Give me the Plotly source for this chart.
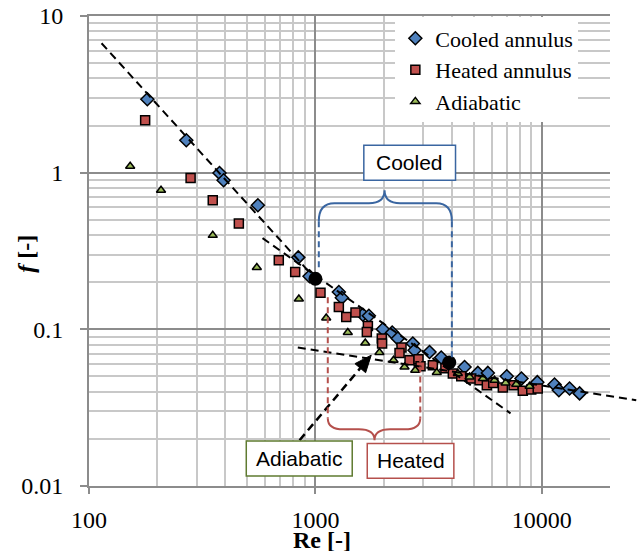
import math
import plotly.graph_objects as go

# ---------------- data ----------------
re_cooled = [181, 269, 377, 393, 557, 840, 942, 1269, 1308, 1620, 1722, 1985, 2183, 2312,
             2693, 2740, 3191, 3594, 4557, 5216, 5774, 7000, 8130, 9550, 11377, 11890,
             13253, 14680]
f_cooled = [2.94, 1.61, 0.996, 0.894, 0.619, 0.288, 0.218, 0.173, 0.159, 0.124, 0.122, 0.100,
            0.0954, 0.0873, 0.0812, 0.0735, 0.0717, 0.0661, 0.0575, 0.0527, 0.0527, 0.0502,
            0.0485, 0.0460, 0.0444, 0.0409, 0.0419, 0.0390]

re_heated = [177, 281, 352, 459, 689, 814, 1053, 1269, 1368, 1503, 1705, 1687, 1964, 1970,
             2400, 2352, 2604, 2853, 2912, 3301, 3750, 4045, 4406, 4879, 5307, 5714, 6100,
             6725, 7500, 8240, 8980, 9590]
f_heated = [2.16, 0.925, 0.667, 0.473, 0.276, 0.232, 0.171, 0.139, 0.120, 0.128, 0.105, 0.0962,
            0.0873, 0.0811, 0.0765, 0.0707, 0.0635, 0.0644, 0.0581, 0.0590, 0.0564, 0.0522,
            0.0502, 0.0485, 0.0473, 0.0440, 0.0455, 0.0425, 0.0440, 0.0406, 0.0413, 0.0419]

re_adiabatic = [152, 208, 352, 551, 845, 1116, 1390, 1660, 1918, 2213, 2475, 2759, 3436, 4256,
                4795, 5488, 6181, 6916, 7708, 8825]
f_adiabatic = [1.10, 0.772, 0.398, 0.248, 0.156, 0.118, 0.0954, 0.0819, 0.0711, 0.0635, 0.0575,
               0.0548, 0.0530, 0.0522, 0.0497, 0.0485, 0.0473, 0.0455, 0.0446, 0.0433]

# transition points (black dots)
re_transition = [1000, 3900]
f_transition = [0.21, 0.0615]

x_tickvals = [100, 1000, 10000]
x_ticktext = ["100", "1000", "10000"]
y_tickvals = [0.01, 0.1, 1, 10]
y_ticktext = ["0.01", "0.1", "1", "10"]

# guide lines (Re, f) endpoints
guide_laminar = [(113.6, 6.70), (1000, 0.21)]
guide_slope = [(584, 0.382), (7273, 0.0291)]
guide_turb = [(836, 0.0765), (26120, 0.0353)]
arrow_adiabatic = [(851, 0.0196), (1764, 0.0684)]

# ---------------- helpers ----------------
X_RANGE = [2.0, math.log10(20000)]
Y_RANGE = [-2.0, 1.0]
W, H = 521.0, 470.0  # plot-area size in px


def to_paper(re, f):
    return ((math.log10(re) - X_RANGE[0]) / (X_RANGE[1] - X_RANGE[0]),
            (math.log10(f) - Y_RANGE[0]) / (Y_RANGE[1] - Y_RANGE[0]))


shapes = []


def add_line(p0, p1, color="black", width=2, dash="8px,5px"):
    x0, y0 = to_paper(*p0)
    x1, y1 = to_paper(*p1)
    shapes.append(dict(type="line", xref="paper", yref="paper", x0=x0, y0=y0, x1=x1, y1=y1,
                       layer="above", line=dict(color=color, width=width, dash=dash)))


def add_brace(re_l, re_r, re_tip, f_end, f_mid, f_tip, color, r=0.03):
    xl, ye = to_paper(re_l, f_end)
    xr, _ = to_paper(re_r, f_end)
    xt, yt = to_paper(re_tip, f_tip)
    _, ym = to_paper(re_l, f_mid)
    path = (f"M{xl},{ye} Q{xl},{ym} {xl + r},{ym} L{xt - r},{ym} Q{xt},{ym} {xt},{yt} "
            f"Q{xt},{ym} {xt + r},{ym} L{xr - r},{ym} Q{xr},{ym} {xr},{ye}")
    shapes.append(dict(type="path", xref="paper", yref="paper", path=path, layer="above",
                       line=dict(color=color, width=2)))


def add_box(re0, re1, f0, f1, color):
    x0, y0 = to_paper(re0, f0)
    x1, y1 = to_paper(re1, f1)
    shapes.append(dict(type="rect", xref="paper", yref="paper", x0=x0, y0=y0, x1=x1, y1=y1,
                       layer="above", fillcolor="white", line=dict(color=color, width=1.5)))
    return (x0 + x1) / 2, (y0 + y1) / 2


def add_arrow(p_tail, p_tip, color="black", L=17, hw=7):
    tx, ty = to_paper(*p_tail)
    hx, hy = to_paper(*p_tip)
    dx, dy = (hx - tx) * W, (hy - ty) * H
    n = math.hypot(dx, dy)
    ux, uy = dx / n, dy / n
    bx, by = hx * W - ux * L, hy * H - uy * L
    lx, ly = bx - uy * hw, by + ux * hw
    rx, ry = bx + uy * hw, by - ux * hw
    shapes.append(dict(type="line", xref="paper", yref="paper", x0=tx, y0=ty,
                       x1=bx / W, y1=by / H, layer="above",
                       line=dict(color=color, width=2.5, dash="8px,5px")))
    path = f"M{hx},{hy} L{lx / W},{ly / H} L{rx / W},{ry / H} Z"
    shapes.append(dict(type="path", xref="paper", yref="paper", path=path, layer="above",
                       fillcolor=color, line=dict(color=color, width=1)))


# ---------------- figure ----------------
fig = go.Figure()
fig.add_trace(go.Scatter(x=re_cooled, y=f_cooled, mode="markers", name="Cooled annulus",
                         marker=dict(symbol="diamond", size=10, color="#4F81BD",
                                     line=dict(color="black", width=1.5))))
fig.add_trace(go.Scatter(x=re_heated, y=f_heated, mode="markers", name="Heated annulus",
                         marker=dict(symbol="square", size=9, color="#C0504D",
                                     line=dict(color="black", width=1.5))))
fig.add_trace(go.Scatter(x=re_adiabatic, y=f_adiabatic, mode="markers", name="Adiabatic",
                         marker=dict(symbol="triangle-up", size=8, color="#9BBB59",
                                     line=dict(color="black", width=1.5))))
fig.add_trace(go.Scatter(x=re_transition, y=f_transition, mode="markers", showlegend=False,
                         marker=dict(symbol="circle", size=14, color="black")))

# guide lines
add_line(*guide_laminar)
add_line(*guide_slope)
add_line(*guide_turb)
add_arrow(*arrow_adiabatic)

# Cooled brace + dashed extents
COOL = "#3A66A1"
HEAT = "#B5504C"
ADIA = "#5F7B31"
add_brace(1035, 4005, 2020, 0.490, 0.638, 0.772, COOL)
add_line((1035, 0.490), (1035, 0.238), color=COOL, width=2, dash="6px,4px")
add_line((4005, 0.490), (4005, 0.0664), color=COOL, width=2, dash="6px,4px")

# Heated brace + dashed extents
add_brace(1134, 2904, 1824, 0.0271, 0.0230, 0.0196, HEAT)
add_line((1134, 0.160), (1134, 0.0271), color=HEAT, width=2, dash="6px,4px")
add_line((2904, 0.0671), (2904, 0.0271), color=HEAT, width=2, dash="6px,4px")

annotations = []
for (re0, re1, f0, f1, color, label) in [
    (1636, 4157, 0.894, 1.496, COOL, "Cooled"),
    (1694, 4087, 0.0112, 0.0187, HEAT, "Heated"),
    (495, 1454, 0.0116, 0.0194, ADIA, "Adiabatic"),
]:
    cx, cy = add_box(re0, re1, f0, f1, color)
    annotations.append(dict(text=label, xref="paper", yref="paper", x=cx, y=cy,
                            xanchor="center", yanchor="middle", showarrow=False,
                            font=dict(family="Liberation Sans, Arial, sans-serif", size=21,
                                      color="black")))

# axis titles
annotations.append(dict(text="<b>Re [-]</b>", xref="paper", yref="paper", x=0.447, y=-0.115,
                        xanchor="center", yanchor="middle", showarrow=False,
                        font=dict(family="Liberation Serif, Times New Roman, serif", size=24,
                                  color="black")))
annotations.append(dict(text="<b><i>f</i> [-]</b>", xref="paper", yref="paper", x=-0.12,
                        y=0.495, xanchor="center", yanchor="middle", showarrow=False,
                        textangle=-90,
                        font=dict(family="Liberation Serif, Times New Roman, serif", size=24,
                                  color="black")))

minor_x = [m * 10 ** e for e in range(2, 5) for m in range(2, 10) if m * 10 ** e <= 20000]
minor_y = [m * 10.0 ** e for e in range(-2, 1) for m in range(2, 10)]

MAJOR = "#8C8C8C"
MINOR = "#C8C8C8"
tickfont = dict(family="Liberation Serif, Times New Roman, serif", size=24, color="black")

fig.update_layout(
    template="none",
    width=644, height=551,
    margin=dict(l=89, r=34, t=16, b=65, autoexpand=False),
    paper_bgcolor="white", plot_bgcolor="white",
    shapes=shapes, annotations=annotations,
    showlegend=True,
    legend=dict(x=0.588, y=0.997, xanchor="left", yanchor="top", bgcolor="white",
                borderwidth=0, font=dict(family="Liberation Serif, Times New Roman, serif",
                                         size=22, color="black"),
                tracegroupgap=0),
    xaxis=dict(type="log", range=X_RANGE, tickvals=x_tickvals, ticktext=x_ticktext,
               tickfont=tickfont, ticks="outside", ticklen=6, tickcolor=MAJOR, tickwidth=1.5,
               ticklabelstandoff=5, automargin=False, ticklabeloverflow="allow",
               showgrid=True, gridcolor=MAJOR, gridwidth=2,
               showline=True, linecolor=MAJOR, linewidth=2, mirror=True,
               minor=dict(tickvals=minor_x, showgrid=True, gridcolor=MINOR, gridwidth=1.7,
                          ticks=""),
               zeroline=False),
    yaxis=dict(type="log", range=Y_RANGE, tickvals=y_tickvals, ticktext=y_ticktext,
               tickfont=tickfont, ticks="outside", ticklen=7, tickcolor=MAJOR, tickwidth=1.5,
               ticklabelstandoff=12, automargin=False, ticklabeloverflow="allow",
               showgrid=True, gridcolor=MAJOR, gridwidth=2,
               showline=True, linecolor=MAJOR, linewidth=2,
               minor=dict(tickvals=minor_y, showgrid=True, gridcolor=MINOR, gridwidth=1.7,
                          ticks=""),
               zeroline=False),
)

# remove the default 8px page margin so the 644x551 figure fills the window exactly
fig.write_html("out.html",
               config={"displayModeBar": False},
               post_script="document.body.style.margin='0px';"
                           "document.body.style.overflow='hidden';")
